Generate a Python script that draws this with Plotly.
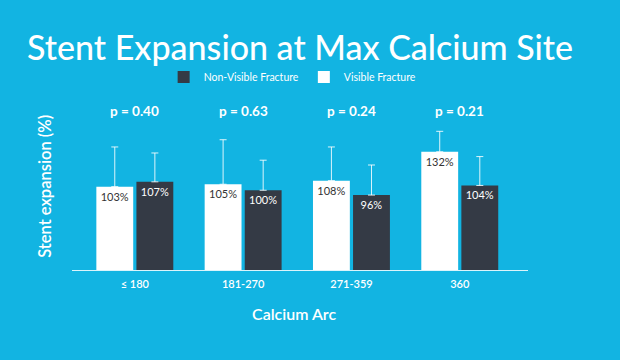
import plotly.graph_objects as go

categories = ["≤ 180", "181-270", "271-359", "360"]
visible = [103, 105, 108, 132]
non_visible = [107, 100, 96, 104]
visible_err = [33, 37, 28, 17]
non_visible_err = [24, 25, 25, 24]
p_values = ["p = 0.40", "p = 0.63", "p = 0.24", "p = 0.21"]

BG = "#12b4e2"
DARK = "#343a45"
FONT = "Lato"

fig = go.Figure()
fig.add_trace(go.Bar(
    name="Visible Fracture", x=categories, y=visible,
    marker=dict(color="white", line=dict(width=0)),
    text=[f"{v}%" for v in visible], textposition="inside", insidetextanchor="end",
    textangle=0, textfont=dict(color="#333333", size=11, family=FONT),
    error_y=dict(type="data", array=visible_err, symmetric=False, arrayminus=[0]*4,
                 color="rgba(255,255,255,0.85)", thickness=1, width=3.5),
))
fig.add_trace(go.Bar(
    name="Non-Visible Fracture", x=categories, y=non_visible,
    marker=dict(color=DARK, line=dict(width=0)),
    text=[f"{v}%" for v in non_visible], textposition="inside", insidetextanchor="end",
    textangle=0, textfont=dict(color="white", size=11, family=FONT),
    error_y=dict(type="data", array=non_visible_err, symmetric=False, arrayminus=[0]*4,
                 color="rgba(255,255,255,0.85)", thickness=1, width=3.5),
))

for i, p in enumerate(p_values):
    fig.add_annotation(x=i, xref="x", y=0.958, yref="paper", text=p, showarrow=False,
                       font=dict(color="white", size=13.5, family=FONT, weight="bold"),
                       yanchor="middle")

fig.add_annotation(x=-0.059, xref="paper", y=0.50, yref="paper", text="Stent expansion (%)",
                   textangle=-90, showarrow=False, xanchor="center", yanchor="middle",
                   font=dict(color="white", size=16.5, family=FONT, weight=600))
fig.add_annotation(x=0.487, xref="paper", y=-0.259, yref="paper", text="Calcium Arc",
                   showarrow=False, xanchor="center", yanchor="middle",
                   font=dict(color="white", size=16, family=FONT, weight=600))

fig.update_layout(
    width=620, height=360,
    paper_bgcolor=BG, plot_bgcolor=BG,
    margin=dict(l=72, r=92, t=100, b=90),
    barmode="group", bargap=0.26, bargroupgap=0.08,
    title=dict(text="Stent Expansion at Max Calcium Site", x=0.484, xanchor="center",
               y=0.867, yanchor="middle", yref="container",
               font=dict(color="white", size=34, family=FONT, weight=500)),
    legend=dict(orientation="h", traceorder="reversed", x=0.472, xanchor="center",
                xref="container", y=0.786, yref="container", yanchor="middle",
                font=dict(color="white", size=10.5, family=FONT),
                bgcolor="rgba(0,0,0,0)", itemwidth=30),
    showlegend=True,
    xaxis=dict(range=[-0.58, 3.63], showline=True, linecolor="rgba(255,255,255,0.85)",
               linewidth=1, showgrid=False, zeroline=False, ticks="",
               ticklabelstandoff=4,
               tickfont=dict(color="white", size=11, family=FONT, weight=600)),
    yaxis=dict(range=[33.7, 172.1], visible=False),
)

fig.write_html("out.html", config={"displayModeBar": False},
               post_script="document.body.style.margin='0';")
